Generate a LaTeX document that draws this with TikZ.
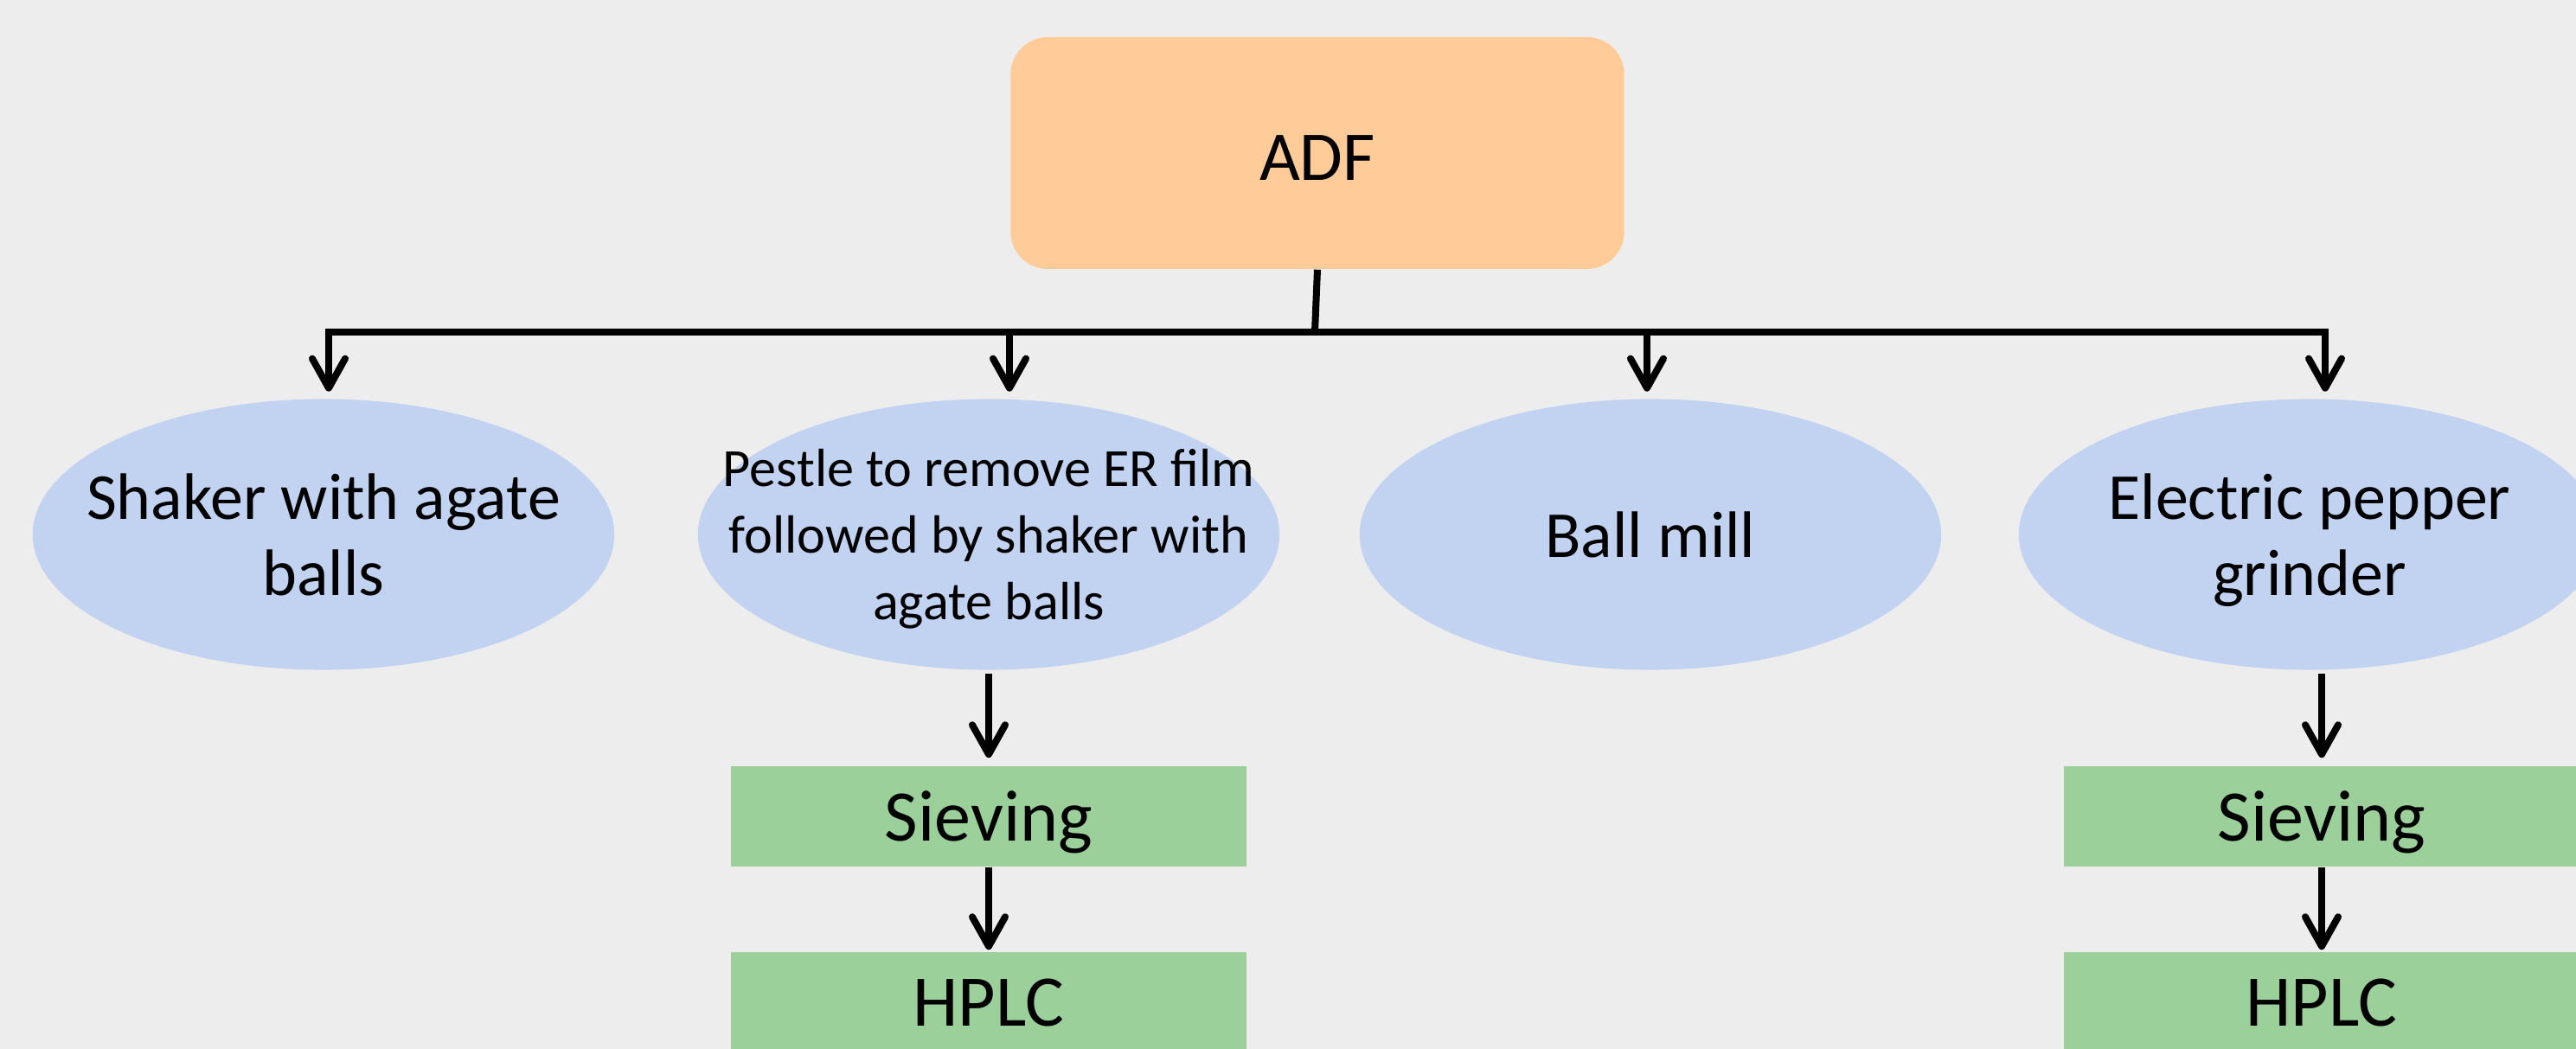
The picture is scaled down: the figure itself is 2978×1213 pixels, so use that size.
\documentclass[tikz,border=0pt]{standalone}
\usepackage{fontspec}
\setmainfont{Carlito}
\usetikzlibrary{arrows.meta,shapes.geometric}
\definecolor{bg}{RGB}{237,237,237}
\definecolor{adfc}{RGB}{255,203,153}
\definecolor{ellc}{RGB}{194,211,242}
\definecolor{boxc}{RGB}{155,208,155}
\begin{document}
\begin{tikzpicture}[x=0.01cm,y=-0.01cm,
  conn/.style={line width=0.08cm, black},
  arr/.style={conn, -{Straight Barb[length=0.34cm,width=0.38cm,line cap=round,line join=round]}},
  ell/.style={ellipse, fill=ellc, inner sep=0pt, minimum width=6.72cm, minimum height=3.13cm},
  elltext/.style={align=center, inner sep=0pt, text depth=0pt, font=\fontsize{21.6}{25}\selectfont},
  proc/.style={rectangle, fill=boxc, inner sep=0pt, minimum width=5.96cm, minimum height=1.16cm, text depth=0pt, font=\fontsize{23.9}{28}\selectfont},
  topbox/.style={fill=adfc, rounded corners=0.43cm, minimum width=7.09cm, minimum height=2.68cm, inner sep=0pt, text height=0.62cm, text depth=0pt, font=\fontsize{23}{28}\selectfont}
]
\fill[bg] (0,0) rectangle (2978,1213);
\clip (0,0) rectangle (2978,1213);
\node[topbox] (adf) at (1523,177) {ADF};
\node[ell] (e1) at (374,618) {};
\node[ell] (e2) at (1143,618) {};
\node[ell] (e3) at (1908,618) {};
\node[ell] (e4) at (2670,618) {};
\node[elltext] (t1) at (e1) {Shaker with agate\\balls};
\node[elltext, font=\fontsize{17.7}{21.8}\selectfont] (t2) at (e2) {Pestle to remove ER film\\followed by shaker with\\agate balls};
\node[elltext] (t3) at (e3) {Ball mill};
\node[elltext] (t4) at (e4) {Electric pepper\\grinder};
\node[proc] (s2) at (1143,944) {Sieving};
\node[proc] (h2) at (1143,1159) {HPLC};
\node[proc] (s4) at (2684,944) {Sieving};
\node[proc] (h4) at (2684,1159) {HPLC};
\coordinate (j) at (1520,384);
\draw[conn] (adf.south) -- (j);
\draw[arr, shorten >=0.08cm] (j) -| ([xshift=0.06cm]e1.north);
\draw[arr, shorten >=0.08cm] (j) -| ([xshift=0.24cm]e2.north);
\draw[arr, shorten >=0.08cm] (j) -| ([xshift=-0.04cm]e3.north);
\draw[arr, shorten >=0.08cm] (j) -| ([xshift=0.18cm]e4.north);
\draw[arr, shorten <=0.04cm, shorten >=0.09cm] (e2.south) -- (s2.north);
\draw[arr, shorten >=0.02cm] (s2.south) -- (h2.north);
\draw[arr, shorten <=0.04cm, shorten >=0.09cm] (e4.south -| s4.north) -- (s4.north);
\draw[arr, shorten >=0.02cm] (s4.south) -- (h4.north);
\end{tikzpicture}
\end{document}
